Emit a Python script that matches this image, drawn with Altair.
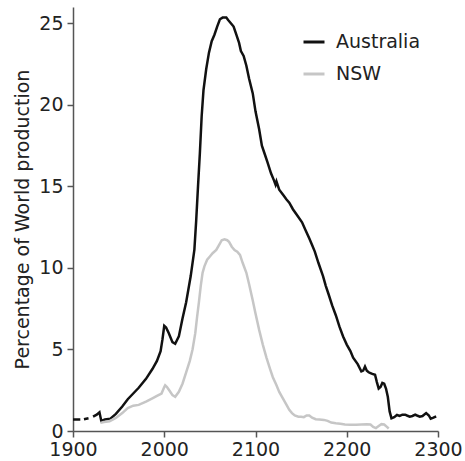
import altair as alt
import pandas as pd

# Australia's share of world production, by year
aus_years = [1900, 1908, 1910, 1912, 1917, 1920, 1922, 1926, 1929, 1931, 1935, 1941, 1947,
             1954, 1960, 1966, 1972, 1980, 1987, 1992, 1996, 1998, 2000, 2002, 2005, 2009,
             2012, 2016, 2020, 2024, 2029, 2033, 2035, 2037, 2039, 2041, 2043, 2046, 2049,
             2052, 2055, 2058, 2061, 2064, 2068, 2070, 2073, 2076, 2079, 2082, 2084, 2087,
             2090, 2093, 2097, 2100, 2104, 2107, 2110, 2113, 2117, 2120, 2122, 2123, 2126,
             2130, 2134, 2137, 2141, 2146, 2151, 2155, 2159, 2162, 2165, 2169, 2174, 2177,
             2180, 2184, 2188, 2192, 2196, 2200, 2204, 2207, 2212, 2216, 2218, 2220, 2222,
             2224, 2226, 2228, 2231, 2233, 2235, 2237, 2239, 2241, 2243, 2245, 2247, 2249,
             2252, 2255, 2258, 2261, 2264, 2266, 2269, 2272, 2275, 2277, 2280, 2283, 2287,
             2290, 2292, 2295, 2298]
aus_values = [0.70, 0.70, None, 0.72, 0.78, None, 0.88, 1.00, 1.15, 0.62, 0.70, 0.76, 1.05,
              1.50, 1.95, 2.30, 2.65, 3.20, 3.80, 4.30, 4.90, 5.60, 6.45, 6.35, 6.00, 5.45,
              5.35, 5.80, 6.90, 7.90, 9.50, 11.10, 12.9, 15.0, 17.0, 19.3, 20.9, 22.2, 23.2,
              23.9, 24.3, 24.8, 25.25, 25.35, 25.35, 25.2, 25.0, 24.8, 24.3, 23.8, 23.3, 23.0,
              22.4, 21.6, 20.7, 19.6, 18.5, 17.5, 17.0, 16.5, 15.8, 15.4, 15.1, 15.3, 14.8,
              14.5, 14.2, 14.0, 13.6, 13.2, 12.8, 12.3, 11.8, 11.4, 11.0, 10.3, 9.5, 8.9,
              8.4, 7.7, 7.1, 6.4, 5.8, 5.3, 4.9, 4.5, 4.1, 3.65, 3.7, 3.95, 3.7,
              3.6, 3.55, 3.5, 3.45, 3.0, 2.6, 2.7, 2.95, 2.9, 2.6, 2.1, 1.2, 0.78,
              0.85, 0.98, 0.92, 1.00, 1.00, 0.95, 0.88, 0.92, 1.00, 0.95, 0.88, 0.92, 1.10,
              0.95, 0.75, 0.82, 0.90]

# New South Wales' share of world production, by year
nsw_years = [1930, 1934, 1940, 1947, 1954, 1960, 1966, 1972, 1980, 1987, 1992, 1997, 2000,
             2001, 2003, 2006, 2009, 2012, 2016, 2020, 2024, 2028, 2031, 2034, 2036, 2038,
             2040, 2042, 2044, 2047, 2050, 2053, 2057, 2060, 2063, 2066, 2069, 2071, 2074,
             2077, 2080, 2083, 2086, 2090, 2093, 2097, 2100, 2104, 2108, 2112, 2116, 2119,
             2123, 2126, 2130, 2134, 2137, 2140, 2143, 2147, 2150, 2153, 2156, 2159, 2162,
             2166, 2170, 2175, 2179, 2183, 2188, 2193, 2198, 2204, 2210, 2216, 2222, 2226,
             2229, 2232, 2235, 2238, 2241, 2244, 2246]
nsw_values = [0.50, 0.55, 0.60, 0.80, 1.10, 1.40, 1.55, 1.60, 1.80, 2.00, 2.15, 2.30, 2.70,
              2.80, 2.70, 2.45, 2.20, 2.10, 2.40, 2.90, 3.60, 4.30, 5.00, 6.00, 7.00, 7.90,
              8.90, 9.70, 10.1, 10.5, 10.7, 10.9, 11.1, 11.4, 11.7, 11.75, 11.7, 11.6, 11.3,
              11.1, 11.0, 10.8, 10.3, 9.7, 9.0, 8.0, 7.2, 6.2, 5.3, 4.5, 3.8, 3.3,
              2.8, 2.4, 2.0, 1.6, 1.3, 1.1, 0.95, 0.88, 0.88, 0.85, 0.95, 0.95, 0.82,
              0.72, 0.70, 0.68, 0.62, 0.52, 0.48, 0.45, 0.40, 0.38, 0.38, 0.40, 0.42, 0.40,
              0.25, 0.18, 0.30, 0.42, 0.40, 0.25, 0.15]

series_names = ["Australia", "NSW"]
series_colors = ["#111111", "#c6c6c6"]
x_ticks = [1900, 2000, 2100, 2200, 2300]
y_ticks = [0, 5, 10, 15, 20, 25]

df = pd.concat([
    pd.DataFrame({"year": aus_years, "pct": aus_values, "region": "Australia"}),
    pd.DataFrame({"year": nsw_years, "pct": nsw_values, "region": "NSW"}),
])

FONT = "DejaVu Sans"

chart = alt.Chart(df).mark_line(
    strokeWidth=2.5, invalid="break-paths-filter-domains"
).encode(
    x=alt.X("year:Q",
            scale=alt.Scale(domain=[1900, 2300], nice=False),
            axis=alt.Axis(values=x_ticks, format="d", title=None, labelPadding=3,
                          labelFlush=False, labelOverlap=False)),
    y=alt.Y("pct:Q",
            scale=alt.Scale(domain=[0, 26], nice=False),
            axis=alt.Axis(values=y_ticks, title="Percentage of World production",
                          labelPadding=4, titlePadding=6, labelFlush=False)),
    color=alt.Color("region:N",
                    scale=alt.Scale(domain=series_names, range=series_colors),
                    legend=alt.Legend(title=None, orient="none", legendX=229, legendY=23,
                                      symbolType="stroke", symbolSize=441,
                                      symbolStrokeWidth=3, labelFontSize=19,
                                      labelFont=FONT, labelColor="#222222",
                                      labelOffset=10, rowPadding=10, padding=0)),
    order=alt.Order("year:Q"),
).properties(
    width=365,
    height=424,
    autosize=alt.AutoSizeParams(type="none"),
    padding={"left": 73, "top": 7, "right": 27, "bottom": 30},
).configure_view(
    stroke=None
).configure_axis(
    grid=False,
    domainColor="#555555",
    domainWidth=1.5,
    tickColor="#555555",
    tickWidth=1.5,
    tickSize=6,
    labelFont=FONT,
    labelFontSize=19,
    labelColor="#222222",
    titleFont=FONT,
    titleFontSize=19,
    titleFontWeight="normal",
    titleColor="#222222",
)

chart.save("out.html", embed_options={"renderer": "svg", "actions": False})
